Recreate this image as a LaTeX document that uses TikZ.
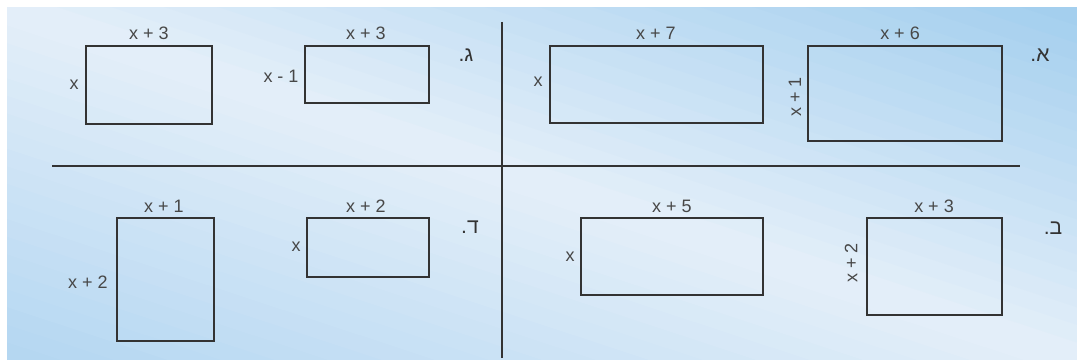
\documentclass[tikz,border=0pt]{standalone}
\usepackage{fontspec}
\setmainfont{Liberation Sans}
\newfontfamily\hebfont[Script=Hebrew]{Liberation Sans}
\TeXXeTstate=1
\usetikzlibrary{positioning}
\definecolor{panelcorner}{HTML}{A2CEEE}
\definecolor{panelfoot}{HTML}{B3D6F1}
\definecolor{panelmid}{HTML}{E4EFF9}
\definecolor{inkgray}{HTML}{333333}
\tikzset{
	sidebox/.style={draw=inkgray, line width=1.1pt},
	divider/.style={draw=inkgray, line width=1pt}
}
\tikzset{
	dimtext/.style={font=\fontsize{12.8}{15}\selectfont, text=inkgray!90, inner sep=1pt}
}
\tikzset{
	parttext/.style={font=\fontsize{15}{17}\selectfont\hebfont, text=inkgray, inner sep=1pt}
}

\begin{document}
\begin{tikzpicture}[x=0.025cm, y=-0.025cm]
\useasboundingbox (0,0) rectangle (1077,360);

% background, light along the falling diagonal
\begin{scope}
	\clip (7,8) rectangle (1077,360);
	\begin{scope}[shift={(7,8)}, xscale=1070, yscale=352]
		\foreach \k in {0,...,39}{
			\pgfmathsetmacro{\ua}{-1+\k/20}
			\pgfmathsetmacro{\ub}{\ua+0.065}
			\pgfmathsetmacro{\um}{\ua+0.025}
			\pgfmathtruncatemacro{\mixpct}{100*abs(\um)}
			\ifdim \um pt<0pt \colorlet{stripcol}{panelfoot!\mixpct!panelmid}\else\colorlet{stripcol}{panelcorner!\mixpct!panelmid}\fi
			\fill[stripcol] (\ua-1,-1) -- (\ua+2,2) -- (\ub+2,2) -- (\ub-1,-1) -- cycle;
		}
	\end{scope}
\end{scope}

\coordinate (vTop) at (502,22);
\coordinate (vBot) at (502,358);
\coordinate (hLeft) at (52,166);
\coordinate (hRight) at (1020,166);
\draw[divider] (vTop) -- (vBot);
\draw[divider] (hLeft) -- (hRight);

% part a
\draw[sidebox] (550,46) rectangle (763,123);
\node[dimtext] (aOneW) at (656,33) {x + 7};
\node[dimtext] (aOneH) at (538,82) {x};
\draw[sidebox] (808,46) rectangle (1002,141);
\node[dimtext] (aTwoW) at (900,33) {x + 6};
\node[dimtext, rotate=90] (aTwoH) at (795,97) {x + 1};
\node[parttext] (aTag) at (1040,55) {\beginR א.\endR};

% part b
\draw[sidebox] (581,218) rectangle (763,295);
\node[dimtext] (bOneW) at (672,206) {x + 5};
\node[dimtext] (bOneH) at (570,257) {x};
\draw[sidebox] (867,218) rectangle (1002,315);
\node[dimtext] (bTwoW) at (934,206) {x + 3};
\node[dimtext, rotate=90] (bTwoH) at (851,263) {x + 2};
\node[parttext] (bTag) at (1053,228) {\beginR ב.\endR};

% part c
\draw[sidebox] (86,46) rectangle (212,124);
\node[dimtext] (cOneW) at (149,33) {x + 3};
\node[dimtext] (cOneH) at (74,85) {x};
\draw[sidebox] (305,46) rectangle (429,103);
\node[dimtext] (cTwoW) at (366,33) {x + 3};
\node[dimtext] (cTwoH) at (281,76) {x - 1};
\node[parttext] (cTag) at (466,55) {\beginR ג.\endR};

% part d
\draw[sidebox] (117,218) rectangle (214,341);
\node[dimtext] (dOneW) at (164,206) {x + 1};
\node[dimtext] (dOneH) at (88,282) {x + 2};
\draw[sidebox] (307,218) rectangle (429,277);
\node[dimtext] (dTwoW) at (366,206) {x + 2};
\node[dimtext] (dTwoH) at (296,247) {x};
\node[parttext] (dTag) at (470,227) {\beginR ד.\endR};

\end{tikzpicture}
\end{document}
